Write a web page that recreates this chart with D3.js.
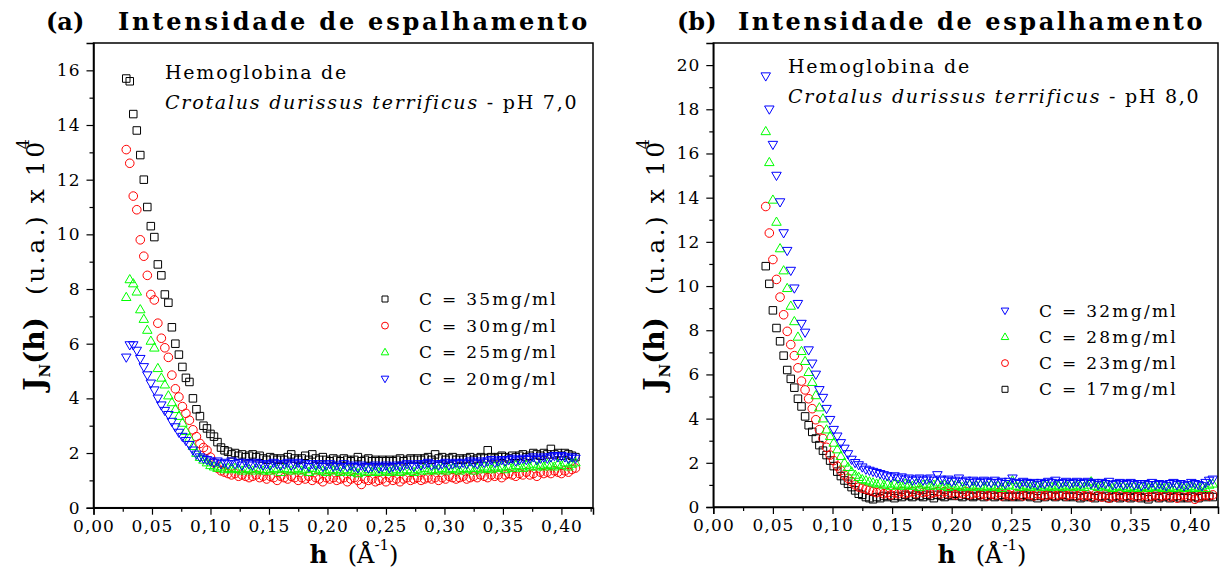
<!DOCTYPE html>
<html><head><meta charset="utf-8">
<script src="https://cdn.jsdelivr.net/npm/d3@7"></script>
<style>body{margin:0;background:#fff}svg{display:block}</style>
</head><body><svg id="c" width="1223" height="576"></svg>
<script>
// ---------------- DATA ----------------
// Panel (a): pH 7,0 — scattering vector h (Å^-1)
const hA = [
.028,.031,.034,.037,.040,.043,.046,.049,.052,.055,
.058,.061,.064,.067,.070,.073,.076,.079,.082,.085,
.088,.091,.094,.097,.100,.103,.106,.109,.112,.115,
.118,.121,.124,.127,.130,.133,.136,.139,.142,.145,
.148,.151,.154,.157,.160,.163,.166,.169,.172,.175,
.178,.181,.184,.187,.190,.193,.196,.199,.202,.205,
.208,.211,.214,.217,.220,.223,.226,.229,.232,.235,
.238,.241,.244,.247,.250,.253,.256,.259,.262,.265,
.268,.271,.274,.277,.280,.283,.286,.289,.292,.295,
.298,.301,.304,.307,.310,.313,.316,.319,.322,.325,
.328,.331,.334,.337,.340,.343,.346,.349,.352,.355,
.358,.361,.364,.367,.370,.373,.376,.379,.382,.385,
.388,.391,.394,.397,.400,.403,.406,.409,.412];
const a35 = [
15.7,15.6,14.4,13.8,12.9,12.0,11.0,10.3,9.9,8.9,
8.5,7.8,7.5,6.6,6.0,5.6,5.15,4.75,4.6,4.0,
3.6,3.35,3.0,2.9,2.7,2.6,2.4,2.2,2.1,2.05,
1.95,2.0,1.9,1.95,1.85,1.9,1.95,1.85,1.9,1.8,
1.75,1.85,1.8,1.75,1.8,1.75,1.85,1.95,1.8,1.75,
1.8,1.9,1.75,1.95,1.8,1.75,1.85,1.75,1.7,1.8,
1.75,1.7,1.8,1.75,1.7,1.75,1.85,1.7,1.75,1.8,
1.7,1.75,1.7,1.75,1.7,1.75,1.7,1.75,1.8,1.7,
1.75,1.8,1.75,1.8,1.75,1.8,1.85,1.75,1.95,1.8,
1.85,1.75,1.8,1.85,1.75,1.8,1.75,1.8,1.85,1.75,
1.8,1.85,1.8,2.1,1.85,1.8,1.85,1.9,1.85,1.8,
1.9,1.85,1.9,1.95,1.85,1.9,2.0,1.95,1.9,2.0,
1.95,2.15,1.95,2.0,1.9,2.0,1.95,1.9,1.85];
const a30 = [
13.1,12.6,11.4,10.9,9.8,9.2,8.5,7.8,7.6,6.75,
6.2,5.85,5.5,4.85,4.35,4.05,3.7,3.45,3.2,2.85,
2.6,2.35,2.2,2.1,1.85,1.65,1.45,1.35,1.3,1.25,
1.2,1.25,1.15,1.2,1.15,1.1,1.15,1.2,1.1,1.15,
1.05,1.15,1.1,1.0,1.15,1.1,1.05,1.15,1.1,1.0,
1.1,1.05,1.15,1.0,1.1,1.05,0.95,1.1,1.05,1.1,
1.0,1.05,1.1,0.95,1.05,1.1,1.0,0.85,1.05,1.0,
1.05,0.95,1.0,1.05,0.95,1.1,1.0,1.05,0.95,1.05,
1.1,1.0,1.05,1.1,1.0,1.05,1.1,1.05,1.1,1.0,
1.1,1.05,1.15,1.1,1.05,1.1,1.15,1.05,1.1,1.15,
1.1,1.2,1.15,1.1,1.2,1.15,1.2,1.1,1.2,1.25,
1.2,1.15,1.25,1.2,1.3,1.2,1.25,1.15,1.3,1.25,
1.3,1.25,1.35,1.3,1.25,1.35,1.3,1.4,1.45];
const a25 = [
7.7,8.35,8.2,7.9,7.25,6.9,6.5,6.1,5.85,5.1,
4.75,4.5,4.1,3.85,3.6,3.35,3.1,2.8,2.55,2.25,
2.0,1.85,1.75,1.65,1.55,1.5,1.45,1.5,1.4,1.45,
1.4,1.45,1.4,1.35,1.45,1.4,1.35,1.45,1.4,1.35,
1.4,1.35,1.45,1.4,1.3,1.45,1.4,1.35,1.4,1.45,
1.35,1.4,1.3,1.45,1.35,1.4,1.35,1.3,1.4,1.35,
1.4,1.3,1.35,1.4,1.3,1.35,1.25,1.35,1.3,1.4,
1.3,1.35,1.3,1.4,1.35,1.3,1.35,1.4,1.3,1.35,
1.4,1.35,1.3,1.4,1.35,1.45,1.35,1.4,1.35,1.4,
1.45,1.35,1.4,1.45,1.4,1.35,1.45,1.4,1.45,1.35,
1.45,1.4,1.5,1.45,1.4,1.5,1.45,1.5,1.4,1.5,
1.45,1.55,1.5,1.45,1.55,1.5,1.6,1.5,1.55,1.5,
1.6,1.55,1.5,1.6,1.55,1.65,1.5,1.6,1.65];
const a20 = [
5.5,5.95,5.95,5.75,5.45,5.15,4.85,4.55,4.3,4.0,
3.75,3.55,3.4,3.15,2.95,2.75,2.6,2.45,2.3,2.1,
1.95,1.85,1.8,1.75,1.7,1.65,1.7,1.6,1.65,1.6,
1.7,1.6,1.65,1.55,1.65,1.6,1.55,1.65,1.6,1.55,
1.6,1.55,1.65,1.6,1.55,1.6,1.65,1.55,1.6,1.65,
1.55,1.6,1.5,1.6,1.55,1.6,1.5,1.55,1.6,1.5,
1.55,1.5,1.6,1.5,1.55,1.5,1.45,1.55,1.5,1.45,
1.5,1.55,1.45,1.5,1.55,1.45,1.5,1.55,1.5,1.55,
1.6,1.55,1.5,1.6,1.55,1.6,1.65,1.55,1.6,1.55,
1.6,1.65,1.55,1.6,1.65,1.6,1.65,1.6,1.7,1.65,
1.6,1.7,1.65,1.7,1.75,1.65,1.7,1.75,1.7,1.75,
1.8,1.7,1.75,1.8,1.75,1.8,1.85,1.75,1.8,1.85,
1.8,1.85,1.9,1.85,1.9,1.85,1.8,1.85,1.8];

// Panel (b): pH 8,0
const hB = [
.044,.047,.050,.053,.056,.059,.062,.065,.068,.071,
.074,.077,.080,.083,.086,.089,.092,.095,.098,.101,
.104,.107,.110,.113,.116,.119,.122,.125,.128,.131,
.134,.137,.140,.143,.146,.149,.152,.155,.158,.161,
.164,.167,.170,.173,.176,.179,.182,.185,.188,.191,
.194,.197,.200,.203,.206,.209,.212,.215,.218,.221,
.224,.227,.230,.233,.236,.239,.242,.245,.248,.251,
.254,.257,.260,.263,.266,.269,.272,.275,.278,.281,
.284,.287,.290,.293,.296,.299,.302,.305,.308,.311,
.314,.317,.320,.323,.326,.329,.332,.335,.338,.341,
.344,.347,.350,.353,.356,.359,.362,.365,.368,.371,
.374,.377,.380,.383,.386,.389,.392,.395,.398,.401,
.404,.407,.410,.413,.416,.419];
const b32 = [
19.5,18.0,16.4,15.0,13.8,12.4,11.6,10.7,9.9,9.2,
8.3,7.9,7.1,6.5,6.0,5.3,4.95,4.45,3.95,3.5,
3.2,2.9,2.65,2.4,2.15,2.0,1.9,1.8,1.7,1.65,
1.6,1.55,1.5,1.45,1.4,1.35,1.4,1.3,1.35,1.25,
1.3,1.2,1.25,1.3,1.2,1.25,1.3,1.2,1.45,1.25,
1.2,1.25,1.15,1.2,1.3,1.15,1.2,1.1,1.2,1.15,
1.1,1.2,1.15,1.1,1.2,1.1,1.15,1.05,1.15,1.3,
1.1,1.05,1.15,1.1,1.05,1.1,1.0,1.1,1.05,1.15,
1.1,1.2,1.05,1.1,1.15,1.05,1.1,1.15,1.05,1.1,
1.15,1.05,1.1,1.0,1.1,1.05,1.15,1.0,1.05,1.1,
1.0,1.05,1.1,1.0,1.05,0.95,1.05,1.0,1.1,1.0,
1.05,1.0,0.95,1.05,1.1,1.0,1.05,0.95,1.0,1.1,
1.05,1.0,0.95,1.1,1.2,1.25];
const b28 = [
17.0,15.6,13.9,12.9,11.7,10.7,9.9,9.1,8.4,7.7,
7.05,6.6,6.1,5.65,5.05,4.5,4.0,3.5,3.2,2.9,
2.6,2.3,2.0,1.8,1.6,1.45,1.35,1.25,1.2,1.15,
1.1,1.05,1.1,1.0,1.05,0.95,1.05,1.0,0.95,1.05,
1.0,0.95,1.05,0.9,1.0,1.05,0.95,1.0,1.1,0.95,
1.0,0.9,1.05,0.95,1.0,0.9,0.95,1.0,0.9,0.95,
1.0,0.9,0.95,1.0,0.9,0.95,0.85,0.95,1.0,1.2,
0.95,0.9,1.0,0.95,0.9,1.0,0.95,0.9,1.0,0.95,
0.9,1.0,0.95,0.9,1.0,0.95,0.9,1.0,0.95,0.9,
1.0,1.15,0.95,0.9,1.0,0.95,0.9,0.85,0.95,0.9,
0.95,0.85,0.9,0.95,0.85,0.9,0.95,0.85,0.9,0.95,
0.9,0.85,0.95,0.9,0.85,0.95,0.9,0.85,0.9,0.95,
0.85,0.9,0.95,0.85,1.0,1.05];
const b23 = [
13.6,12.4,11.2,10.3,9.5,8.7,7.95,7.35,6.85,6.3,
5.7,5.3,4.9,4.45,3.95,3.5,3.1,2.7,2.35,2.1,
1.85,1.65,1.45,1.3,1.15,1.0,0.9,0.85,0.8,0.75,
0.7,0.65,0.7,0.6,0.65,0.55,0.65,0.6,0.7,0.6,
0.65,0.7,0.6,0.75,0.65,0.7,0.6,0.65,0.7,0.6,
0.7,0.6,0.65,0.55,0.65,0.6,0.7,0.55,0.6,0.65,
0.55,0.6,0.5,0.6,0.55,0.65,0.5,0.6,0.55,0.5,
0.6,0.55,0.5,0.6,0.55,0.5,0.6,0.55,0.5,0.55,
0.6,0.5,0.55,0.6,0.5,0.55,0.6,0.5,0.55,0.5,
0.55,0.45,0.55,0.5,0.45,0.55,0.4,0.5,0.45,0.55,
0.5,0.45,0.55,0.5,0.45,0.5,0.55,0.45,0.5,0.55,
0.45,0.5,0.55,0.45,0.5,0.4,0.5,0.55,0.45,0.5,
0.35,0.45,0.5,0.55,0.5,0.55];
const b17 = [
10.9,10.1,8.9,8.1,7.5,6.85,6.2,5.8,5.4,4.9,
4.55,4.1,3.7,3.4,3.1,2.8,2.55,2.35,2.1,1.85,
1.6,1.4,1.2,1.05,0.9,0.75,0.6,0.55,0.45,0.4,
0.35,0.45,0.4,0.5,0.45,0.5,0.4,0.5,0.45,0.55,
0.5,0.45,0.55,0.5,0.45,0.55,0.5,0.4,0.55,0.5,
0.45,0.55,0.5,0.6,0.5,0.45,0.55,0.5,0.45,0.5,
0.55,0.45,0.5,0.55,0.45,0.5,0.55,0.45,0.5,0.45,
0.5,0.45,0.55,0.5,0.45,0.5,0.4,0.5,0.45,0.55,
0.5,0.45,0.5,0.55,0.45,0.5,0.45,0.5,0.4,0.45,
0.5,0.45,0.4,0.5,0.45,0.5,0.4,0.45,0.5,0.4,
0.45,0.5,0.4,0.45,0.5,0.4,0.45,0.35,0.45,0.5,
0.4,0.45,0.5,0.4,0.45,0.5,0.4,0.45,0.4,0.5,
0.45,0.4,0.5,0.45,0.5,0.45];

const xTickValues = [0,0.05,0.10,0.15,0.20,0.25,0.30,0.35,0.40];
const xTickLabels = ["0,00","0,05","0,10","0,15","0,20","0,25","0,30","0,35","0,40"];
const yTicksA = [0,2,4,6,8,10,12,14,16];
const yTicksB = [0,2,4,6,8,10,12,14,16,18,20];
const legendA = ["C = 35mg/ml","C = 30mg/ml","C = 25mg/ml","C = 20mg/ml"];
const legendB = ["C = 32mg/ml","C = 28mg/ml","C = 23mg/ml","C = 17mg/ml"];

// ---------------- DRAWING ----------------
const svg = d3.select("#c");
const SERIF = "'DejaVu Serif', serif";
svg.append("rect").attr("width",1223).attr("height",576).attr("fill","#fff");

function symPath(type, s){
  const r = s/2;
  if(type==="sq") return `M${-r},${-r}h${s}v${s}h${-s}Z`;
  if(type==="ci") return `M${r},0A${r},${r} 0 1,1 ${-r},0A${r},${r} 0 1,1 ${r},0Z`;
  const h = s*0.866;
  if(type==="up") return `M0,${-h*0.6}L${r},${h*0.4}L${-r},${h*0.4}Z`;
  return `M0,${h*0.6}L${r},${-h*0.4}L${-r},${-h*0.4}Z`;
}
const SIZE = {sq:7.5, ci:8.6, up:9.5, dn:9.5};

function fitText(sel, w){
  const n = sel.text().length;
  const L = sel.node().getComputedTextLength();
  sel.attr("letter-spacing", ((w - L)/(n)).toFixed(3));
}

function panel(cfg){
  const g = svg.append("g");
  const x = d3.scaleLinear().domain([0, cfg.xMax]).range([cfg.x0, cfg.x1]);
  const y = d3.scaleLinear().domain([0, cfg.yMax]).range([cfg.y1, cfg.y0]);
  const cid = "clip"+cfg.id;
  svg.append("clipPath").attr("id",cid).append("rect")
    .attr("x",cfg.x0).attr("y",cfg.y0).attr("width",cfg.x1-cfg.x0).attr("height",cfg.y1-cfg.y0);

  // data
  const dg = g.append("g").attr("clip-path",`url(#${cid})`);
  cfg.series.forEach(s=>{
    const pts = s.values.map((v,i)=>[cfg.h[i], v]);
    dg.append("g").selectAll("path").data(pts).join("path")
      .attr("d", symPath(s.type, SIZE[s.type]))
      .attr("transform", d=>`translate(${x(d[0])},${y(d[1])})`)
      .attr("fill","none").attr("stroke", s.color).attr("stroke-width",1);
  });

  // frame
  g.append("rect").attr("x",cfg.x0).attr("y",cfg.y0).attr("width",cfg.x1-cfg.x0).attr("height",cfg.y1-cfg.y0)
    .attr("fill","none").attr("stroke","#000").attr("stroke-width",1.5);

  // axes
  const minorX = xTickValues.map(v=>v+0.025).filter(v=>v<cfg.xMax);
  const minorY = cfg.yTicks.map(v=>v+1).filter(v=>v<cfg.yMax);
  const ax = g.append("g").attr("transform",`translate(0,${cfg.y1})`)
    .call(d3.axisBottom(x).tickValues(xTickValues).tickSize(7).tickPadding(5)
      .tickFormat((d,i)=>xTickLabels[i]));
  g.append("g").attr("transform",`translate(0,${cfg.y1})`)
    .call(d3.axisBottom(x).tickValues(minorX).tickSize(4).tickFormat(""))
    .select(".domain").remove();
  const ay = g.append("g").attr("transform",`translate(${cfg.x0},0)`)
    .call(d3.axisLeft(y).tickValues(cfg.yTicks).tickSize(7).tickPadding(6));
  g.append("g").attr("transform",`translate(${cfg.x0},0)`)
    .call(d3.axisLeft(y).tickValues(minorY).tickSize(4).tickFormat(""))
    .select(".domain").remove();
  g.selectAll(".domain").attr("stroke-width",1.5);
  g.selectAll(".tick line").attr("stroke-width",1.2);
  ax.selectAll("text").attr("font-family",SERIF).attr("font-size",17).attr("fill","#000").attr("letter-spacing",1);
  ay.selectAll("text").attr("font-family",SERIF).attr("font-size",17).attr("fill","#000").attr("letter-spacing",1);

  // titles
  g.append("text").attr("x",cfg.labX).attr("y",30).attr("font-family",SERIF)
    .attr("font-weight","bold").attr("font-size",24).text(cfg.label);
  const tt = g.append("text").attr("x",cfg.titleX).attr("y",30).attr("font-family",SERIF)
    .attr("font-weight","bold").attr("font-size",24).text("Intensidade de espalhamento");
  fitText(tt, cfg.titleW);

  // annotation
  const an1 = g.append("text").attr("x",cfg.annX).attr("y",cfg.annY).attr("font-family",SERIF)
    .attr("font-size",19).text("Hemoglobina de");
  fitText(an1, cfg.ann1W);
  const an2 = g.append("text").attr("x",cfg.annX).attr("y",cfg.annY+30).attr("font-family",SERIF).attr("font-size",19);
  an2.append("tspan").attr("font-style","italic").text("Crotalus durissus terrificus");
  an2.append("tspan").text(" - pH "+cfg.ph);
  fitText(an2, cfg.ann2W);

  // legend
  cfg.legend.forEach((txt,i)=>{
    const s = cfg.series[cfg.legendOrder[i]];
    const yy = cfg.legY + i*cfg.legDy;
    g.append("path").attr("d", symPath(s.type, SIZE[s.type]*0.8))
      .attr("transform",`translate(${cfg.legMX},${yy})`)
      .attr("fill","none").attr("stroke",s.color).attr("stroke-width",1);
    const t = g.append("text").attr("x",cfg.legTX).attr("y",yy+6).attr("font-family",SERIF)
      .attr("font-size",17).text(txt);
    fitText(t, cfg.legW);
  });

  // y axis label
  const yl = g.append("text").attr("transform",`translate(${cfg.ylX},265) rotate(-90)`)
    .attr("text-anchor","middle").attr("font-family",SERIF).attr("fill","#000");
  yl.append("tspan").attr("font-weight","bold").attr("font-size",28).text("J");
  yl.append("tspan").attr("font-weight","bold").attr("font-size",15).attr("dy",6).text("N");
  yl.append("tspan").attr("font-weight","bold").attr("font-size",28).attr("dy",-6).text("(h)");
  yl.append("tspan").attr("font-size",25).attr("dx",22).attr("letter-spacing",2.5).text("(u.a.) x 10");
  yl.append("tspan").attr("font-size",16).attr("dx",-10).attr("dy",-15).text("4");

  // x axis label
  const xl = g.append("text").attr("x",cfg.xlX).attr("y",563).attr("text-anchor","middle")
    .attr("font-family",SERIF).attr("fill","#000");
  xl.append("tspan").attr("font-weight","bold").attr("font-size",25).text("h");
  xl.append("tspan").attr("font-size",24).attr("dx",20).text("(Å");
  xl.append("tspan").attr("font-size",15).attr("dy",-13).text("-1");
  xl.append("tspan").attr("font-size",24).attr("dy",13).text(")");
}

panel({id:"a", x0:93.5, x1:593, y0:43, y1:507.7, xMax:0.427, yMax:17, h:hA, yTicks:yTicksA,
  series:[{values:a35,type:"sq",color:"#000"},{values:a30,type:"ci",color:"#ff0000"},
          {values:a25,type:"up",color:"#00ff00"},{values:a20,type:"dn",color:"#0000ff"}],
  legend:legendA, legendOrder:[0,1,2,3], legY:299, legDy:26.6, legMX:385, legTX:419, legW:139,
  label:"(a)", labX:46, titleX:118, titleW:472,
  annX:165, annY:79, ann1W:183, ann2W:413, ph:"7,0", ylX:44, xlX:354});

panel({id:"b", x0:713.3, x1:1218, y0:43, y1:507, xMax:0.4234, yMax:21, h:hB, yTicks:yTicksB,
  series:[{values:b17,type:"sq",color:"#000"},{values:b23,type:"ci",color:"#ff0000"},
          {values:b28,type:"up",color:"#00ff00"},{values:b32,type:"dn",color:"#0000ff"}],
  legend:legendB, legendOrder:[3,2,1,0], legY:310.7, legDy:26.2, legMX:1005, legTX:1039, legW:139,
  label:"(b)", labX:677, titleX:738, titleW:467,
  annX:788, annY:73, ann1W:183, ann2W:412, ph:"8,0", ylX:664, xlX:982});
</script></body></html>
